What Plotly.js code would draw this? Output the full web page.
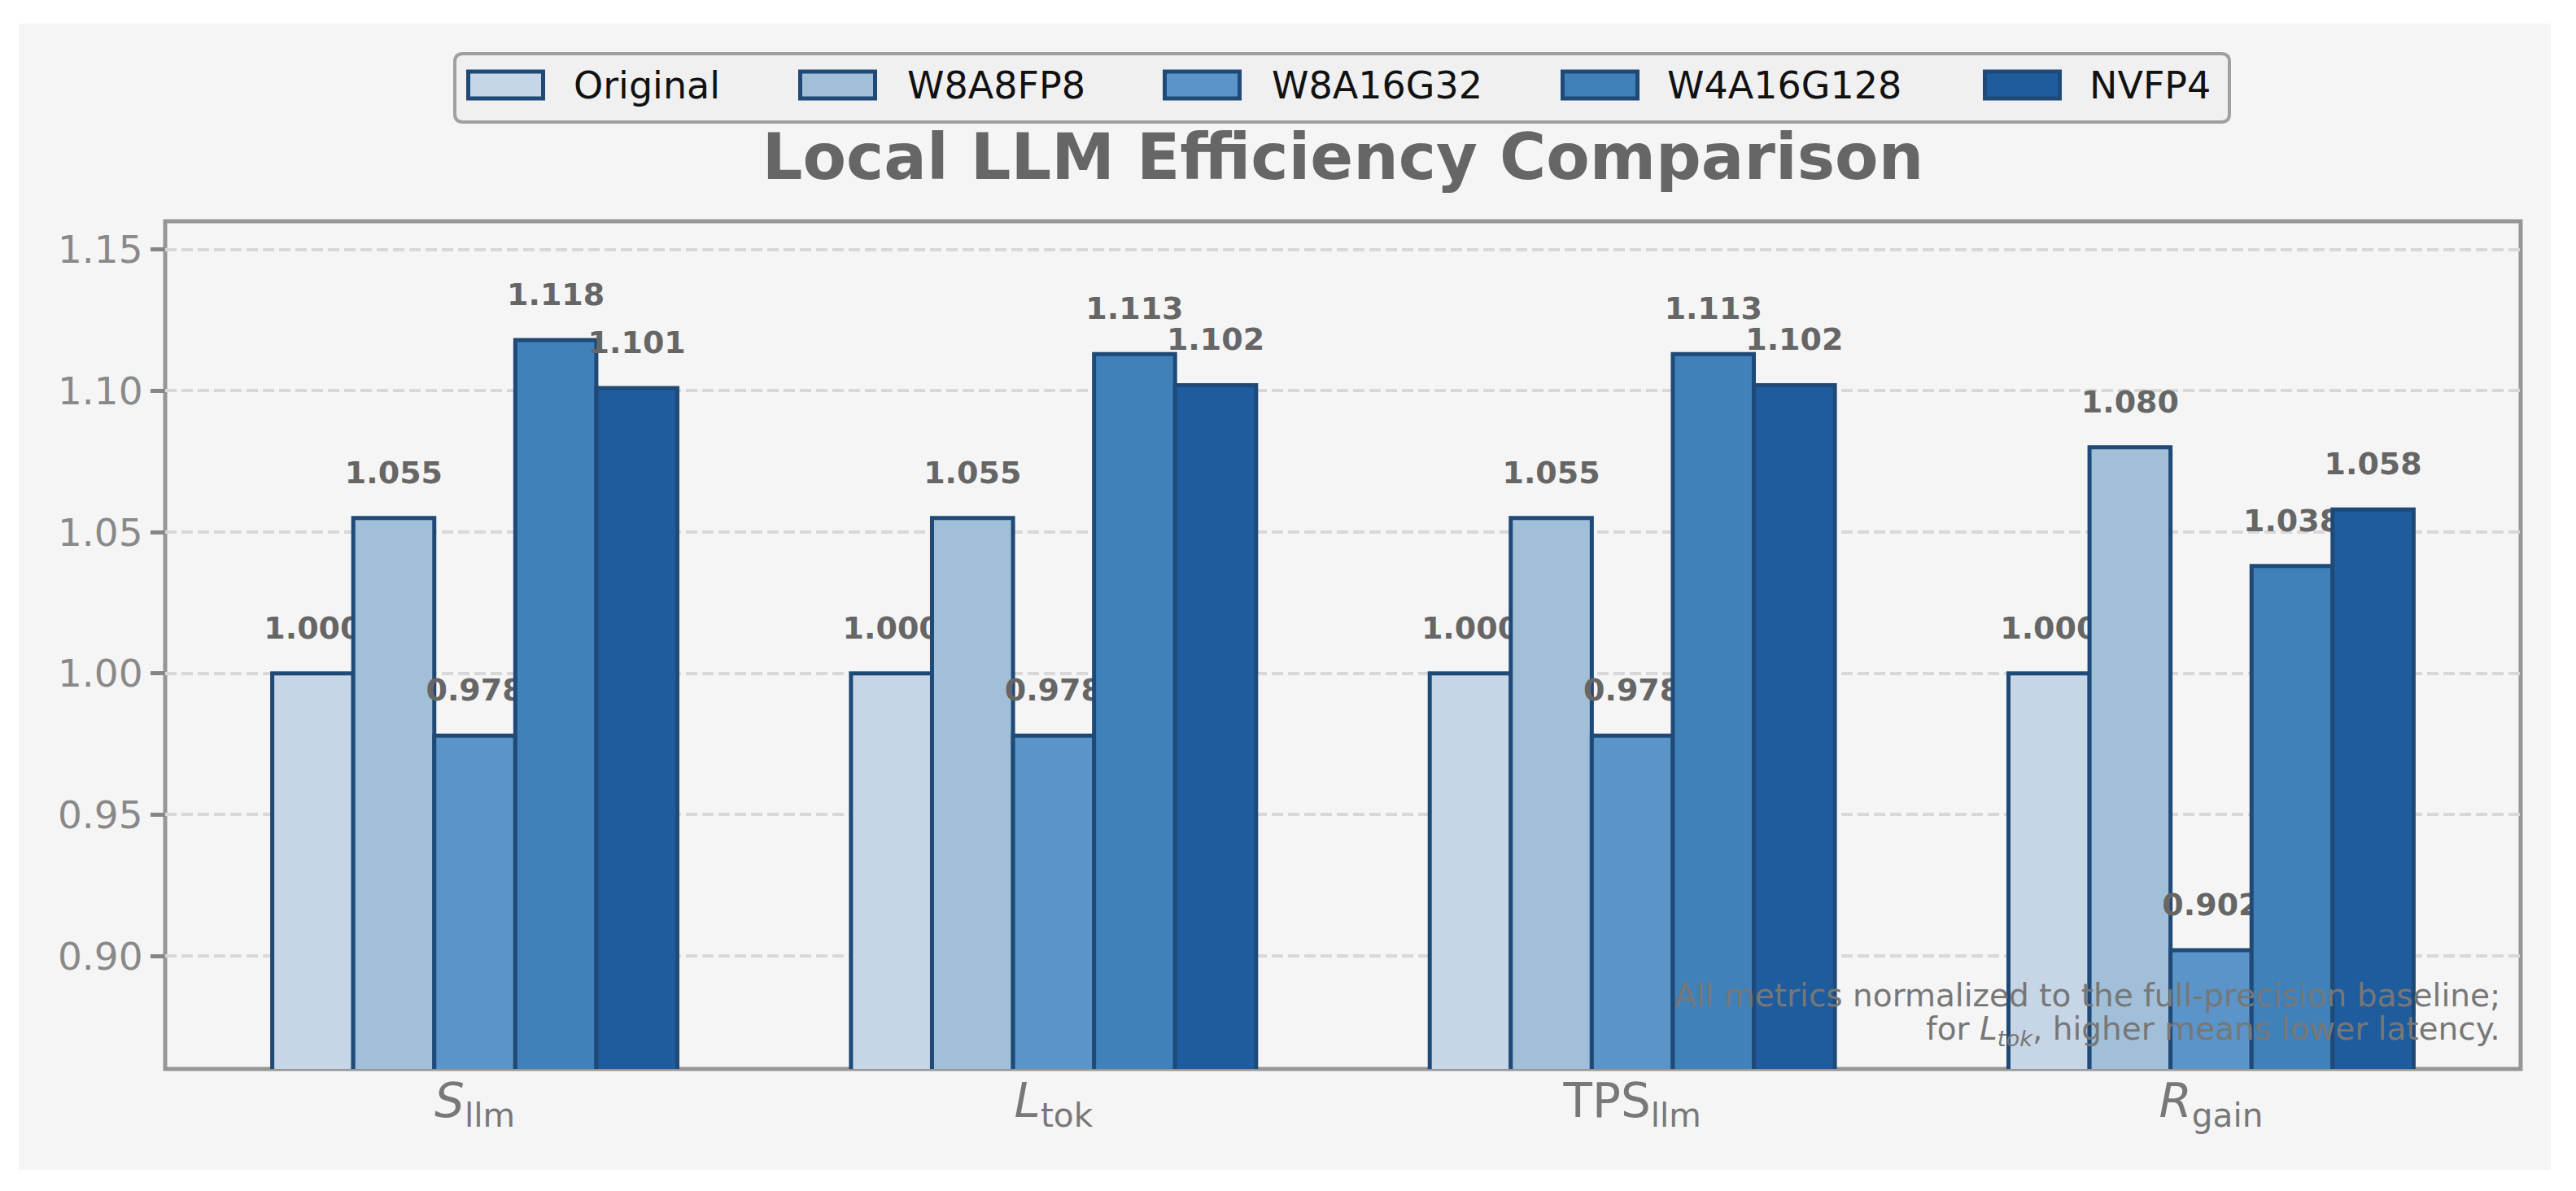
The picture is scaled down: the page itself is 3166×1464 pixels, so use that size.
<!DOCTYPE html>
<html><head><meta charset="utf-8">
<script src="https://cdn.plot.ly/plotly-3.0.1.min.js"></script>
<style>
html,body{margin:0;padding:0;background:#ffffff;}
#chart{position:absolute;left:23px;top:29px;width:3112px;height:1409px;}
</style></head><body><div id="chart"></div>
<script>
// ---------------- DATA ----------------
const categoryKeys = ['S_llm', 'L_tok', 'TPS_llm', 'R_gain'];
const categoryTickLabels = ['<i>S</i><sub>llm</sub>', '<i>L</i><sub>tok</sub>', 'TPS<sub>llm</sub>', '<i>R</i><sub>gain</sub>'];
const seriesNames = ['Original', 'W8A8FP8', 'W8A16G32', 'W4A16G128', 'NVFP4'];
const originalValues  = [1.000, 1.000, 1.000, 1.000];
const w8a8fp8Values   = [1.055, 1.055, 1.055, 1.080];
const w8a16g32Values  = [0.978, 0.978, 0.978, 0.902];
const w4a16g128Values = [1.118, 1.113, 1.113, 1.038];
const nvfp4Values     = [1.101, 1.102, 1.102, 1.058];
const yTickValues = [0.90, 0.95, 1.00, 1.05, 1.10, 1.15];
const titleText = 'Local LLM Efficiency Comparison';
const noteLines = ['All metrics normalized to the full-precision baseline;',
                   'for <i>L</i><sub><i>tok</i></sub>, higher means lower latency.'];

// ---------------- STYLE / GEOMETRY ----------------
const seriesValues = [originalValues, w8a8fp8Values, w8a16g32Values, w4a16g128Values, nvfp4Values];
const seriesColors = ['#c6d6e6', '#a1bfd8', '#5b94c8', '#4081b9', '#1f5c9e'];
const edgeColor = '#1f4a78';
const FONT = 'DejaVu Sans, Verdana, sans-serif';

const DIV = {left: 23, top: 29, width: 3112, height: 1409};
const M = {l: 180, r: 37, t: 243, b: 124};
const plotLeft = DIV.left + M.l, plotTop = DIV.top + M.t;
const plotW = DIV.width - M.l - M.r, plotH = DIV.height - M.t - M.b;
const px2x = p => (p - plotLeft) / plotW;          // page px -> paper x
const py2y = p => (plotTop + plotH - p) / plotH;   // page px -> paper y
const yRange = [0.86, 1.16];
const xRange = [-0.535, 3.535];
const bargap = 0.3;
const nSeries = seriesNames.length;
const barW = (1 - bargap) / nSeries;
const catIdx = categoryKeys.map((_, i) => i);
const labelFont = 38;
const labelOffset = (43 + 0.25 * labelFont) * (yRange[1] - yRange[0]) / plotH;

const traces = [];
seriesValues.forEach((vals, j) => {
  traces.push({
    type: 'bar', name: seriesNames[j], x: catIdx, y: vals,
    marker: {color: seriesColors[j], line: {color: edgeColor, width: 5}},
    zorder: 2 * j, showlegend: false, hoverinfo: 'skip'
  });
  traces.push({
    type: 'scatter', mode: 'text',
    x: catIdx.map(i => i + (j - (nSeries - 1) / 2) * barW),
    y: vals.map(v => v + labelOffset),
    text: vals.map(v => v.toFixed(3)),
    textposition: 'middle center',
    textfont: {family: FONT, size: labelFont, color: '#666666', weight: 'bold'},
    cliponaxis: false, zorder: 2 * j + 1, showlegend: false, hoverinfo: 'skip'
  });
});

// ---------------- LEGEND (manual, matplotlib-like) ----------------
const shapes = [];
const annotations = [];
// axes frame
shapes.push({type: 'rect', xref: 'paper', yref: 'paper', x0: 0, x1: 1, y0: 0, y1: 1,
  line: {color: '#969696', width: 5}, fillcolor: 'rgba(0,0,0,0)', layer: 'between'});

function roundRectPath(x0p, y0p, x1p, y1p, r) {
  const X0 = px2x(x0p), X1 = px2x(x1p), Y0 = py2y(y0p), Y1 = py2y(y1p);
  const rx = r / plotW, ry = r / plotH;
  return `M${X0 + rx},${Y0} L${X1 - rx},${Y0} Q${X1},${Y0} ${X1},${Y0 - ry} ` +
         `L${X1},${Y1 + ry} Q${X1},${Y1} ${X1 - rx},${Y1} L${X0 + rx},${Y1} ` +
         `Q${X0},${Y1} ${X0},${Y1 + ry} L${X0},${Y0 - ry} Q${X0},${Y0} ${X0 + rx},${Y0} Z`;
}
const legendBox = {x0: 559, y0: 66, x1: 2740, y1: 150};
shapes.push({type: 'path', xref: 'paper', yref: 'paper',
  path: roundRectPath(legendBox.x0, legendBox.y0, legendBox.x1, legendBox.y1, 10),
  fillcolor: '#f0f0f0', line: {color: '#a0a0a0', width: 4}, layer: 'above'});
const legendSwatchLeft = [575.5, 983.5, 1431.5, 1920.5, 2439.5];
const swatchW = 92, swatchTop = 88, swatchBottom = 121;
const legendTextLeft = [703, 1113, 1561, 2047, 2566];
const legendTextMid = 121 - 0.346 * 46;
seriesNames.forEach((name, j) => {
  shapes.push({type: 'rect', xref: 'paper', yref: 'paper',
    x0: px2x(legendSwatchLeft[j]), x1: px2x(legendSwatchLeft[j] + swatchW),
    y0: py2y(swatchBottom), y1: py2y(swatchTop),
    fillcolor: seriesColors[j], line: {color: edgeColor, width: 5}, layer: 'above'});
  annotations.push({xref: 'paper', yref: 'paper', x: px2x(legendTextLeft[j]), y: py2y(legendTextMid),
    xanchor: 'left', yanchor: 'middle', showarrow: false, text: name,
    font: {family: FONT, size: 46, color: '#111111'}});
});

// note
const noteFont = 39;
const noteBaselines = [1237, 1280];
noteLines.forEach((t, k) => {
  annotations.push({xref: 'paper', yref: 'paper', x: px2x(3075), y: py2y(noteBaselines[k] - 0.346 * noteFont),
    xanchor: 'right', yanchor: 'middle', align: 'right', showarrow: false, text: t,
    font: {family: FONT, size: noteFont, color: '#777777'}});
});

const layout = {
  width: DIV.width, height: DIV.height,
  margin: M,
  paper_bgcolor: '#f5f5f5', plot_bgcolor: '#f5f5f5',
  barmode: 'group', bargap: bargap, bargroupgap: 0,
  showlegend: false,
  title: {text: titleText, font: {family: FONT, size: 78, color: '#666666', weight: 'bold'},
          x: 0.5, xref: 'paper', xanchor: 'center',
          y: 1 - (220 - 0.35 * 78 - DIV.top) / DIV.height, yref: 'container', yanchor: 'middle'},
  xaxis: {range: xRange, tickmode: 'array', tickvals: catIdx, ticktext: categoryTickLabels,
          tickfont: {family: FONT, size: 58, color: '#787878'},
          showgrid: false, zeroline: false, showline: false, ticks: '', automargin: false, fixedrange: true},
  yaxis: {range: yRange, tickmode: 'array', tickvals: yTickValues,
          ticktext: yTickValues.map(v => v.toFixed(2)),
          tickfont: {family: FONT, size: 47, color: '#898989'},
          ticks: 'outside', ticklen: 17, tickwidth: 5, tickcolor: '#858585',
          showgrid: true, gridcolor: '#d8d8d8', gridwidth: 4, griddash: '14px,6px',
          zeroline: false, showline: false, automargin: false, fixedrange: true},
  shapes: shapes, annotations: annotations,
  font: {family: FONT}
};

Plotly.newPlot('chart', traces, layout, {displayModeBar: false, staticPlot: true});
</script></body></html>
